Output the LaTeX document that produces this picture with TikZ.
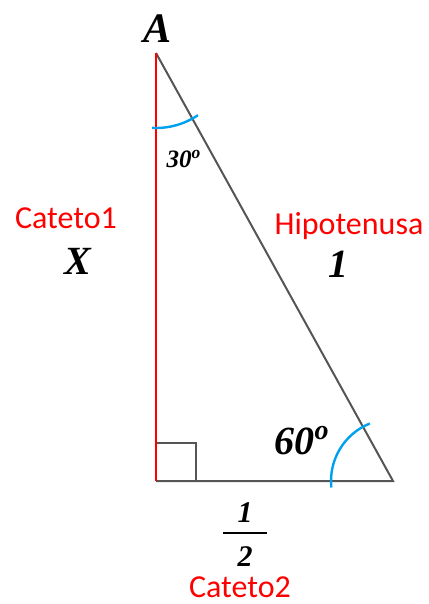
\documentclass[tikz,border=0pt]{standalone}
\usepackage{fontspec}
\setmainfont{Liberation Serif}
\newfontfamily\rotulofont{Carlito}
\usepackage{xcolor}
\definecolor{azularco}{RGB}{0,160,240}
\definecolor{cinzalado}{RGB}{85,85,85}
\definecolor{vermelho}{RGB}{255,0,0}
\tikzset{
  valor/.style={font=\bfseries\itshape\fontsize{#1}{#1}\selectfont, inner sep=0pt},
  rotulo/.style={text=vermelho, font=\rotulofont\fontsize{16}{16}\selectfont, inner sep=0pt},
  lado/.style={cinzalado, line width=1pt},
  arco/.style={azularco, line width=1.2pt},
}

\begin{document}
\begin{tikzpicture}[x=0.5pt,y=0.5pt]
  \useasboundingbox (0,0) rectangle (428,-604);

  % --- vertici del triangolo ---
  \coordinate (A) at (156,-53);
  \coordinate (B) at (156,-481);
  \coordinate (C) at (393,-481);

  % --- lati ---
  \draw[lado] (B) -- (C) -- (A);
  \draw[lado] (B) ++(0,38) -- ++(40,0) -- ++(0,-38);
  \draw[vermelho, line width=1pt] (A) -- (B);

  % --- angoli ---
  \draw[arco] (A) ++(267:75) arc (267:304:75);
  \draw[arco] (C) ++(186:62) arc (186:112:62);

  % --- etichette ---
  \node[valor=21] (lblA) at (158,-29) {A};
  \node[valor=12.5] (ang30) at (184,-159) {30\textsuperscript{o}};
  \node[valor=20] (ang60) at (302,-441) {60\textsuperscript{o}};
  \node[rotulo] (cateto1) at (66,-218) {Cateto1};
  \node[valor=20] (valX) at (78,-261) {X};
  \node[rotulo] (hipot) at (349,-226) {Hipotenusa};
  \node[valor=20] (valHip) at (338,-264) {1};
  \node[valor=15] (num) at (245,-513) {1};
  \node[valor=15] (den) at (245,-557) {2};
  \draw[line width=0.8pt] (223,-533) -- (267,-533);
  \node[rotulo] (cateto2) at (240,-587) {Cateto2};
\end{tikzpicture}
\end{document}
